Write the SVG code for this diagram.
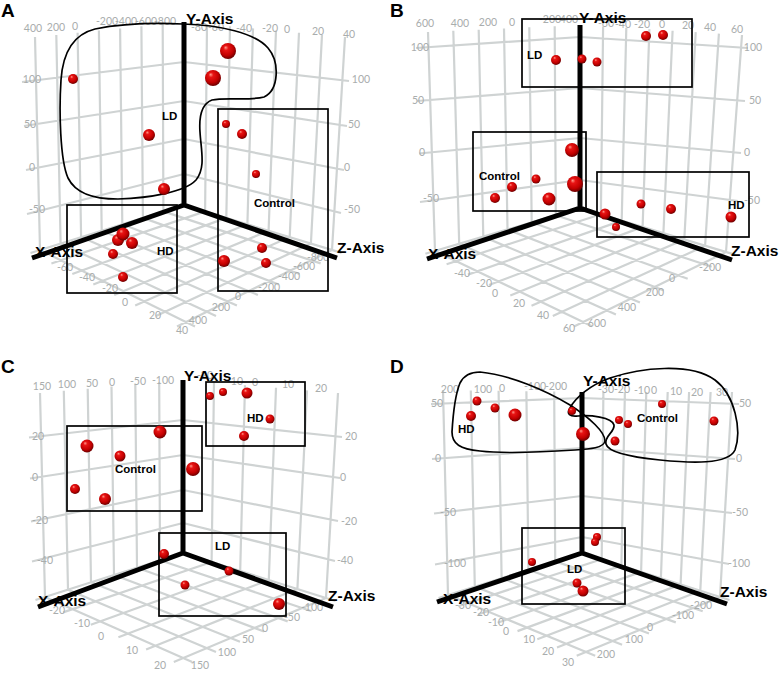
<svg xmlns="http://www.w3.org/2000/svg" width="779" height="685" viewBox="0 0 779 685">
<style>
.grid{fill:none;stroke:#cfd3d3;stroke-width:2.2}
.tk{font-family:Lato,'Open Sans',sans-serif;font-size:10.5px;fill:#a9adad;text-anchor:middle}
.ax{fill:none;stroke:#000;stroke-width:5}
.axl{font-family:'Liberation Sans',Arial,sans-serif;font-size:15.5px;font-weight:bold;fill:#000}
.cl{font-family:'Liberation Sans',Arial,sans-serif;font-size:11.5px;font-weight:bold;fill:#000}
.pl{font-family:'Liberation Sans',Arial,sans-serif;font-size:19px;font-weight:bold;fill:#000}
.bx{fill:none;stroke:#000;stroke-width:1.7}
.pt{fill:url(#ball)}
</style>
<defs>
<radialGradient id="ball" cx="0.45" cy="0.4" r="0.6" fx="0.35" fy="0.28">
<stop offset="0" stop-color="#ff9a8a"/>
<stop offset="0.25" stop-color="#e81414"/>
<stop offset="0.7" stop-color="#c20000"/>
<stop offset="1" stop-color="#6a0000"/>
</radialGradient>
</defs>
<rect width="779" height="685" fill="#fff"/>

<!-- Panel A -->
<g id="panel-A">
<text class="pl" x="1" y="17">A</text>
<path class="grid" d="M162.7,24.1L163.4,211.4M141.4,26.3L142.9,217.9M120.1,28.4L122.3,224.3M98.9,30.6L101.7,230.7M77.6,32.7L81.1,237.1M56.3,34.9L60.6,243.6M35,37L40,250M22,82L184,62M24,126L184,101M26,170L184,139M27,214L184,174M207,24.1L205.1,211.4M230,26.3L226.3,217.9M253,28.4L247.4,224.3M276,30.6L268.6,230.7M299,32.7L289.7,237.1M322,34.9L310.9,243.6M345,37L332,250M184,62L349,81M184,101L347,126M184,139L344,170M184,174L341,213M184,205L30.5,253M205.1,211.4L51.4,263.5M226.3,217.9L72.3,274M247.4,224.3L93.3,284.5M268.6,230.7L114.2,295M289.7,237.1L135.2,305.4M310.9,243.6L156,316M332,250L177,326.4M184,205L341.6,252.9M163.4,211.4L320.6,263.4M142.9,217.9L299.7,274M122.3,224.3L278.7,284.5M101.7,230.7L257.9,294.9M81.1,237.1L236.9,305.4M60.6,243.6L216,316M40,250L195,326.4"/>
<g id="A-ticks">
<text class="tk" x="33" y="32">400</text><text class="tk" x="56" y="31">200</text><text class="tk" x="75" y="30">0</text>
<text class="tk" x="107" y="25">-200</text><text class="tk" x="126" y="25">-400</text><text class="tk" x="146" y="25">-600</text><text class="tk" x="165" y="25">-800</text>
<text class="tk" x="199" y="31">-80</text><text class="tk" x="216" y="31">-60</text><text class="tk" x="244" y="32">-40</text><text class="tk" x="270" y="32">-20</text><text class="tk" x="287" y="33">0</text><text class="tk" x="318" y="35">20</text><text class="tk" x="349" y="38">40</text>
<text class="tk" x="32" y="83">100</text><text class="tk" x="30" y="128">50</text><text class="tk" x="32" y="171">0</text><text class="tk" x="37" y="213">-50</text>
<text class="tk" x="361" y="83">100</text><text class="tk" x="354" y="128">50</text><text class="tk" x="347" y="171">0</text><text class="tk" x="352" y="213">-50</text>
<text class="tk" x="65" y="271">-60</text><text class="tk" x="87" y="281">-40</text><text class="tk" x="110" y="292">-20</text><text class="tk" x="125" y="306">0</text><text class="tk" x="155" y="319">20</text><text class="tk" x="182" y="334">40</text>
<text class="tk" x="198" y="324">400</text><text class="tk" x="221" y="311">200</text><text class="tk" x="238" y="300">0</text><text class="tk" x="269" y="291">-200</text><text class="tk" x="289" y="280">-400</text><text class="tk" x="304" y="270">-600</text><text class="tk" x="318" y="261">-800</text>
</g>
<g id="A-connectors"><path class="ax" d="M184,22V205M184,205L32,258M184,205L337,258"/></g>
<text class="axl" x="186" y="24">Y-Axis</text>
<text class="axl" x="35" y="257">X-Axis</text>
<text class="axl" x="337" y="253">Z-Axis</text>
<g id="A-LD"><path class="bx" d="M183,24C220,25 255,33 268,48C280,62 279,90 264,97C250,101 225,97 212,100C201,104 199,118 200,132C201,150 206,168 196,180C185,192 150,198 118,199C90,199 75,192 68,178C60,160 59,110 61,80C63,50 75,34 95,29C125,23 160,23 183,24Z"/><text class="cl" x="162" y="120">LD</text></g>
<g id="A-HD"><rect class="bx" x="67" y="205" width="110" height="88"/><text class="cl" x="157" y="255">HD</text></g>
<g id="A-Control"><rect class="bx" x="218" y="109" width="110" height="182"/><text class="cl" x="254" y="207">Control</text></g>
<g id="A-points">
<circle class="pt" cx="228" cy="51" r="8"/><circle class="pt" cx="213" cy="78" r="8"/><circle class="pt" cx="73" cy="79" r="5"/><circle class="pt" cx="149" cy="135" r="6"/><circle class="pt" cx="226" cy="124" r="4"/><circle class="pt" cx="242" cy="134" r="5"/><circle class="pt" cx="256" cy="174" r="4"/><circle class="pt" cx="164" cy="189" r="6"/>
<circle class="pt" cx="118" cy="240" r="6"/><circle class="pt" cx="132" cy="243" r="6"/><circle class="pt" cx="123" cy="234" r="6.5"/><circle class="pt" cx="113" cy="254" r="5"/><circle class="pt" cx="123" cy="277" r="5"/>
<circle class="pt" cx="262" cy="248" r="5"/><circle class="pt" cx="224" cy="261" r="6"/><circle class="pt" cx="266" cy="263" r="5"/>
</g>
</g>

<!-- Panel B -->
<g id="panel-B">
<text class="pl" x="390" y="17">B</text>
<path class="grid" d="M554.7,26.2L555.8,215.2M529.3,27.3L531.7,222.3M504,28.5L507.5,229.5M478.7,29.7L483.3,236.7M453.3,30.8L459.2,243.8M428,32L435,251M416,48L580,37M417,101L580,88M419,153.5L580,138M420,202L580,180M603.1,26.4L600.9,214.3M626.3,27.9L621.7,220.6M649.4,29.3L642.6,226.9M672.6,30.7L663.4,233.1M695.7,32.1L684.3,239.4M718.9,33.6L705.1,245.7M742,35L726,252M580,37L748,48M580,88L745,101M580,138L741,153M580,180L738,201M580,208L425.4,253.8M600.9,214.3L446.6,264.2M621.7,220.6L467.9,274.6M642.6,226.9L489,285M663.4,233.1L510.3,295.4M684.3,239.4L531.5,305.7M705.1,245.7L552.8,316.1M726,252L574,326.4M580,208L735.6,254.9M555.8,215.2L711.7,266.8M531.7,222.3L687.7,278.7M507.5,229.5L663.8,290.6M483.3,236.7L639.9,302.6M459.2,243.8L615.9,314.4M435,251L592,326.3"/>
<g id="B-ticks">
<text class="tk" x="425" y="27">600</text><text class="tk" x="460" y="27">400</text><text class="tk" x="488" y="26">200</text><text class="tk" x="512" y="26">0</text><text class="tk" x="550" y="23">-200</text><text class="tk" x="567" y="23">-400</text>
<text class="tk" x="606" y="27">-60</text><text class="tk" x="623" y="28">-40</text><text class="tk" x="642" y="28">-20</text><text class="tk" x="662" y="28">0</text><text class="tk" x="688" y="29">20</text><text class="tk" x="710" y="31">40</text><text class="tk" x="737" y="33">60</text>
<text class="tk" x="420" y="51">100</text><text class="tk" x="418" y="104">50</text><text class="tk" x="422" y="156">0</text><text class="tk" x="431" y="202">-50</text>
<text class="tk" x="753" y="51">100</text><text class="tk" x="755" y="104">50</text><text class="tk" x="747" y="156">0</text><text class="tk" x="752" y="204">-50</text>
<text class="tk" x="462" y="277">-40</text><text class="tk" x="484" y="287">-20</text><text class="tk" x="495" y="297">0</text><text class="tk" x="519" y="307">20</text><text class="tk" x="543" y="319">40</text><text class="tk" x="569" y="332">60</text>
<text class="tk" x="597" y="327">600</text><text class="tk" x="627" y="311">400</text><text class="tk" x="655" y="296">200</text><text class="tk" x="672" y="282">0</text><text class="tk" x="710" y="271">-200</text>
</g>
<g id="B-connectors"><path class="ax" d="M580,25V208M580,208L427,259M580,208L732,260"/></g>
<text class="axl" x="579" y="23">Y-Axis</text>
<text class="axl" x="428" y="259">X-Axis</text>
<text class="axl" x="731" y="256">Z-Axis</text>
<g id="B-LD"><rect class="bx" x="522" y="19" width="170" height="68"/><text class="cl" x="527" y="59">LD</text></g>
<g id="B-Control"><rect class="bx" x="473" y="132" width="113" height="79"/><text class="cl" x="479" y="180">Control</text></g>
<g id="B-HD"><rect class="bx" x="597" y="172" width="152" height="65"/><text class="cl" x="728" y="209">HD</text></g>
<g id="B-points">
<circle class="pt" cx="556" cy="60" r="5"/><circle class="pt" cx="582" cy="59" r="4.5"/><circle class="pt" cx="597" cy="62" r="4.5"/><circle class="pt" cx="646" cy="36" r="5"/><circle class="pt" cx="663" cy="35" r="5"/><circle class="pt" cx="572" cy="150" r="7"/>
<circle class="pt" cx="536" cy="179" r="4.5"/><circle class="pt" cx="512" cy="187" r="5"/><circle class="pt" cx="495" cy="198" r="5"/><circle class="pt" cx="549" cy="199" r="6.5"/><circle class="pt" cx="575" cy="184" r="8"/>
<circle class="pt" cx="605" cy="214" r="5.5"/><circle class="pt" cx="616" cy="227" r="4"/><circle class="pt" cx="641" cy="204" r="4.5"/><circle class="pt" cx="671" cy="209" r="5"/><circle class="pt" cx="731" cy="217" r="5.5"/>
</g>
</g>

<!-- Panel C -->
<g id="panel-C">
<text class="pl" x="1" y="373">C</text>
<path class="grid" d="M159.2,382.2L160,560.3M135.3,384.3L137,567.7M111.5,386.5L114,575M87.7,388.7L91,582.3M63.8,390.8L68,589.7M40,393L45,597M29,437.5L183,420M30,478.5L183,455M31,521.5L183,490M32,561.5L183,523M214,382.6L211.6,562M245,385.2L240.2,571M276,387.8L268.8,580M307,390.4L297.4,589M338,393L326,598M183,420L342,437M183,455L340,478M183,490L338,521M183,523L335,561M183,553L35.5,600M211.6,562L63.1,612.4M240.2,571L90.8,624.8M268.8,580L118.4,637.2M297.4,589L146.1,649.5M326,598L173.8,661.9M183,553L335.5,601M160,560.3L311.7,611.2M137,567.7L287.7,621.4M114,575L263.9,631.5M91,582.3L240,641.7M68,589.7L216,651.9M45,597L192.2,662"/>
<g id="C-ticks">
<text class="tk" x="42" y="390">150</text><text class="tk" x="67" y="388">100</text><text class="tk" x="92" y="387">50</text><text class="tk" x="112" y="386">0</text><text class="tk" x="138" y="385">-50</text><text class="tk" x="163" y="384">-100</text>
<text class="tk" x="205" y="379">-20</text><text class="tk" x="235" y="385">-10</text><text class="tk" x="255" y="386">0</text><text class="tk" x="288" y="388">10</text><text class="tk" x="321" y="392">20</text>
<text class="tk" x="38" y="440">20</text><text class="tk" x="35" y="481">0</text><text class="tk" x="40" y="524">-20</text><text class="tk" x="45" y="564">-40</text>
<text class="tk" x="351" y="440">20</text><text class="tk" x="343" y="481">0</text><text class="tk" x="349" y="525">-20</text><text class="tk" x="345" y="564">-40</text>
<text class="tk" x="57" y="614">-20</text><text class="tk" x="82" y="627">-10</text><text class="tk" x="101" y="640">0</text><text class="tk" x="132" y="654">10</text><text class="tk" x="160" y="669">20</text>
<text class="tk" x="200" y="669">150</text><text class="tk" x="227" y="656">100</text><text class="tk" x="248" y="643">50</text><text class="tk" x="265" y="632">0</text><text class="tk" x="292" y="621">-50</text><text class="tk" x="312" y="611">-100</text>
</g>
<g id="C-connectors"><path class="ax" d="M183,380V553M183,553L38,607M183,553L333,607"/></g>
<text class="axl" x="184" y="381">Y-Axis</text>
<text class="axl" x="38" y="606">X-Axis</text>
<text class="axl" x="328" y="601">Z-Axis</text>
<g id="C-Control"><rect class="bx" x="67" y="426" width="135" height="85"/><text class="cl" x="115" y="473">Control</text></g>
<g id="C-HD"><rect class="bx" x="206" y="382" width="99" height="64"/><text class="cl" x="247" y="422">HD</text></g>
<g id="C-LD"><rect class="bx" x="159" y="533" width="127" height="83"/><text class="cl" x="215" y="550">LD</text></g>
<g id="C-points">
<circle class="pt" cx="210" cy="396" r="4"/><circle class="pt" cx="223" cy="392" r="4"/><circle class="pt" cx="247" cy="393" r="5.5"/><circle class="pt" cx="270" cy="419" r="4.5"/><circle class="pt" cx="244" cy="436" r="5"/>
<circle class="pt" cx="160" cy="432" r="6.5"/><circle class="pt" cx="87" cy="446" r="6.5"/><circle class="pt" cx="120" cy="456" r="5.5"/><circle class="pt" cx="193" cy="469" r="7"/><circle class="pt" cx="75" cy="489" r="5"/><circle class="pt" cx="105" cy="499" r="6"/>
<circle class="pt" cx="164" cy="554" r="5"/><circle class="pt" cx="185" cy="585" r="4.5"/><circle class="pt" cx="229" cy="571" r="4.5"/><circle class="pt" cx="279" cy="604" r="6"/>
</g>
</g>

<!-- Panel D -->
<g id="panel-D">
<text class="pl" x="390" y="373">D</text>
<path class="grid" d="M554.2,391.6L555.2,561.4M526.4,391.2L528.4,569.8M498.6,390.8L501.6,578.2M470.8,390.4L474.8,586.6M443,390L448,595M431,404L582,398M432,459L582,448M434,513.5L582,496M435,564.5L582,537M603.4,392L601.7,559.3M624.9,392L621.4,565.6M646.3,392L641.1,571.9M667.7,392L660.9,578.1M689.1,392L680.6,584.4M710.6,392L700.3,590.7M732,392L720,597M582,398L739,404M582,448L735,459M582,496L732,513M582,537L729,564M582,553L438.5,598M601.7,559.3L458.2,606.2M621.4,565.6L478,614.5M641.1,571.9L497.7,622.7M660.9,578.1L517.5,631.1M680.6,584.4L537.3,639.3M700.3,590.7L557,647.6M720,597L576.7,655.8M582,553L729.5,600M555.2,561.4L702.7,611.2M528.4,569.8L675.8,622.4M501.6,578.2L649,633.5M474.8,586.6L622.1,644.7M448,595L595.2,655.8"/>
<g id="D-ticks">
<text class="tk" x="450" y="393">200</text><text class="tk" x="483" y="393">100</text><text class="tk" x="502" y="392">0</text><text class="tk" x="535" y="390">-100</text><text class="tk" x="556" y="390">-200</text>
<text class="tk" x="606" y="393">-30</text><text class="tk" x="622" y="393">-20</text><text class="tk" x="642" y="394">-10</text><text class="tk" x="654" y="394">0</text><text class="tk" x="676" y="395">10</text><text class="tk" x="697" y="396">20</text><text class="tk" x="722" y="396">30</text>
<text class="tk" x="437" y="407">50</text><text class="tk" x="438" y="462">0</text><text class="tk" x="448" y="516">-50</text><text class="tk" x="455" y="567">-100</text>
<text class="tk" x="745" y="407">50</text><text class="tk" x="739" y="462">0</text><text class="tk" x="740" y="516">-50</text><text class="tk" x="739" y="567">-100</text>
<text class="tk" x="463" y="609">-30</text><text class="tk" x="481" y="616">-20</text><text class="tk" x="496" y="626">-10</text><text class="tk" x="506" y="635">0</text><text class="tk" x="529" y="643">10</text><text class="tk" x="548" y="655">20</text><text class="tk" x="568" y="666">30</text>
<text class="tk" x="606" y="658">200</text><text class="tk" x="634" y="643">100</text><text class="tk" x="650" y="631">0</text><text class="tk" x="683" y="619">-100</text><text class="tk" x="701" y="609">-200</text>
</g>
<g id="D-connectors"><path class="ax" d="M582,392V553M582,553L437,602M582,553L727,604"/></g>
<text class="axl" x="583" y="386">Y-Axis</text>
<text class="axl" x="443" y="604">X-Axis</text>
<text class="axl" x="720" y="597">Z-Axis</text>
<g id="D-HD"><path class="bx" d="M480,372C510,375 545,390 570,405C590,418 605,432 605,441C604,448 590,449 575,450C545,452 505,454 480,451C460,449 452,444 452,432C453,415 455,395 460,383C464,375 472,372 480,372Z"/><text class="cl" x="458" y="433">HD</text></g>
<g id="D-Control"><path class="bx" d="M570,408C575,398 590,385 610,378C640,368 690,362 715,380C735,395 742,430 735,450C728,465 690,463 660,460C630,457 608,452 606,444C604,436 615,432 614,425C612,417 590,415 578,416C570,417 566,414 570,408Z"/><text class="cl" x="637" y="422">Control</text></g>
<g id="D-LD"><rect class="bx" x="522" y="528" width="103" height="76"/><text class="cl" x="567" y="573">LD</text></g>
<g id="D-points">
<circle class="pt" cx="477" cy="401" r="4.5"/><circle class="pt" cx="471" cy="416" r="5"/><circle class="pt" cx="495" cy="408" r="4.5"/><circle class="pt" cx="515" cy="415" r="6.5"/><circle class="pt" cx="572" cy="411" r="4"/><circle class="pt" cx="583" cy="434" r="7"/>
<circle class="pt" cx="619" cy="420" r="4"/><circle class="pt" cx="628" cy="424" r="4"/><circle class="pt" cx="615" cy="441" r="4.5"/><circle class="pt" cx="662" cy="404" r="4"/><circle class="pt" cx="714" cy="421" r="4.5"/>
<circle class="pt" cx="597" cy="537" r="4"/><circle class="pt" cx="595" cy="542" r="4"/><circle class="pt" cx="532" cy="562" r="4"/><circle class="pt" cx="577" cy="583" r="4.5"/><circle class="pt" cx="583" cy="591" r="5.5"/>
</g>
</g>
</svg>
